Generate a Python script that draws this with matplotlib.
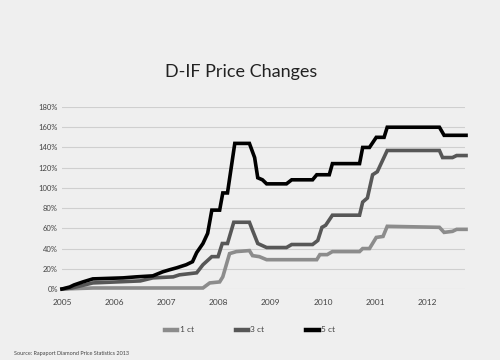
import matplotlib
matplotlib.use("Agg")
import matplotlib.pyplot as plt
from matplotlib.lines import Line2D

# ---- data ----
years_5ct = [2005.0, 2005.15, 2005.23, 2005.40, 2005.59, 2006.17, 2006.42, 2006.74, 2006.93, 2007.06,
             2007.2, 2007.38, 2007.5, 2007.58, 2007.70, 2007.79, 2007.87, 2008.02, 2008.08, 2008.17,
             2008.31, 2008.59, 2008.69, 2008.75, 2008.84, 2008.92, 2009.30, 2009.40, 2009.80, 2009.88,
             2010.12, 2010.18, 2010.70, 2010.76, 2010.89, 2011.02, 2011.17, 2011.23, 2012.23, 2012.32,
             2012.74]
vals_5ct = [0, 2, 4, 7, 10, 11, 12, 13, 17, 19,
            21, 24, 27, 36, 45, 55, 78, 78, 95, 95,
            144, 144, 130, 110, 108, 104, 104, 108, 108, 113,
            113, 124, 124, 140, 140, 150, 150, 160, 160, 152,
            152]

years_3ct = [2005.0, 2005.19, 2005.59, 2006.5, 2006.74, 2007.13, 2007.25, 2007.58, 2007.70, 2007.87,
             2007.99, 2008.07, 2008.17, 2008.29, 2008.59, 2008.65, 2008.75, 2008.92, 2009.30, 2009.40,
             2009.80, 2009.90, 2009.98, 2010.05, 2010.18, 2010.70, 2010.76, 2010.85, 2010.95, 2011.04,
             2011.23, 2012.23, 2012.29, 2012.48, 2012.56, 2012.74]
vals_3ct = [0, 1, 6, 8, 11, 12, 14, 16, 24, 32,
            32, 45, 45, 66, 66, 58, 45, 41, 41, 44,
            44, 48, 61, 63, 73, 73, 86, 90, 113, 116,
            137, 137, 130, 130, 132, 132]

years_1ct = [2005.0, 2005.6, 2007.70, 2007.83, 2008.02, 2008.08, 2008.21, 2008.34, 2008.59,
             2008.65, 2008.78, 2008.92, 2009.88, 2009.94, 2010.08, 2010.18, 2010.70, 2010.76, 2010.89,
             2011.02, 2011.15, 2011.23, 2012.23, 2012.32, 2012.48, 2012.56, 2012.74]
vals_1ct = [0, 1, 1, 6, 7, 12, 35, 37, 38,
            33, 32, 29, 29, 34, 34, 37, 37, 40, 40,
            51, 52, 62, 61, 56, 57, 59, 59]

series_names = ["1 ct", "3 ct", "5 ct"]
series_colors = ["#8c8c8c", "#575757", "#000000"]

year_ticks = [2005, 2006, 2007, 2008, 2009, 2010, 2011, 2012]
year_labels = ["2005", "2006", "2007", "2008", "2009", "2010", "2001", "2012"]
pct_ticks = [0, 20, 40, 60, 80, 100, 120, 140, 160, 180]
pct_labels = [f"{v}%" for v in pct_ticks]

title = "D-IF Price Changes"
source = "Source: Rapaport Diamond Price Statistics 2013"

# ---- figure ----
plt.rcParams['font.family'] = ['Lato', 'DejaVu Sans']
bg = "#efefef"
fig = plt.figure(figsize=(5, 3.6), dpi=100, facecolor=bg)
ax = fig.add_axes([62/500, 1-289/360, (465-62)/500, (289-107)/360])
ax.set_facecolor(bg)

ax.set_xlim(2005.0, 2012.72)
ax.set_ylim(0, 180)
ax.set_yticks(pct_ticks)
ax.set_yticklabels(pct_labels)
ax.set_xticks(year_ticks)
ax.set_xticklabels(year_labels)
ax.grid(axis='y', color='#cfcfcf', linewidth=0.8)
ax.set_axisbelow(True)
for s in ax.spines.values():
    s.set_visible(False)
ax.tick_params(length=0, labelsize=5.5, colors='#444444')
ax.tick_params(axis='x', pad=7, labelsize=6)
ax.tick_params(axis='y', pad=3)

data = [(years_1ct, vals_1ct), (years_3ct, vals_3ct), (years_5ct, vals_5ct)]
for (xs, ys), c, n in zip(data, series_colors, series_names):
    ax.plot(xs, ys, color=c, linewidth=2.6, label=n, clip_on=False,
            solid_joinstyle='miter')

handles = [Line2D([0], [0], color=c, linewidth=3.2) for c in series_colors]
fig.legend(handles, series_names, loc='center', bbox_to_anchor=(0.5, 1-330/360),
           ncol=3, frameon=False, fontsize=6, handlelength=1.5, handletextpad=0.3,
           columnspacing=5.0, labelcolor='#444444')

fig.text(241/500, 1-72/360, title, ha='center', va='center', fontsize=13, color='#222222')
fig.text(14/500, 1-353/360, source, ha='left', va='center', fontsize=4, color='#444444')

fig.savefig("out.png", dpi=100, facecolor=bg)
